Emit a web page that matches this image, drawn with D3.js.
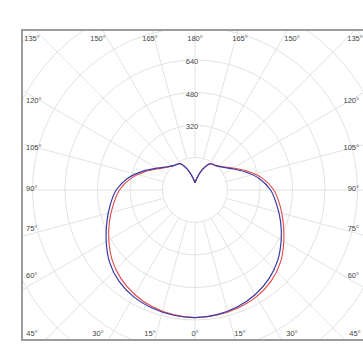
<!DOCTYPE html>
<html>
<head>
<meta charset="UTF-8">
<style>
  body { margin: 0; padding: 0; background: #fff; }
  svg { display: block; }
</style>
<script src="https://d3js.org/d3.v7.min.js"></script>
</head>
<body>
<script>
  // gamma angles (0 = down, 180 = up), 10 degree steps
  const gammas = [0, 10, 20, 30, 40, 50, 60, 70, 80, 90, 100, 110, 120, 130, 140, 150, 160, 170, 180];
  // intensity, wide half of each plane
  const wideHalf = [628, 625, 618, 606, 584, 550, 505, 462, 424, 388, 336, 272, 216, 178, 158, 150, 108, 62, 35];
  // intensity, narrow half of each plane
  const narrowHalf = [628, 623, 612, 594, 568, 533, 490, 448, 408, 372, 322, 262, 210, 175, 157, 149, 108, 62, 35];
  // grid
  const ringValues = [160, 320, 480, 640, 800, 960, 1120, 1280, 1440, 1600];
  const ringLabels = [320, 480, 640];
  const spokeAngles = d3.range(0, 360, 15);
  const topLabels = [135, 150, 165, 180, 165, 150, 135];
  const sideLabels = [120, 105, 90, 75, 60];
  const bottomLabels = [45, 30, 15, 0, 15, 30, 45];

  const width = 363, height = 350;
  const box = { x: 22, y: 30, w: 345, h: 310 };
  const cx = 195, cy = 190;

  const r = d3.scaleLinear().domain([0, 160]).range([0, 32.5]);

  const svg = d3.select("body").append("svg")
      .attr("width", width)
      .attr("height", height);

  svg.append("clipPath").attr("id", "clip")
    .append("rect")
      .attr("x", box.x).attr("y", box.y)
      .attr("width", box.w).attr("height", box.h);

  const grid = svg.append("g").attr("clip-path", "url(#clip)")
    .append("g")
      .attr("transform", `translate(${cx},${cy})`);

  grid.selectAll("circle")
    .data(ringValues)
    .join("circle")
      .attr("r", d => r(d))
      .attr("fill", "none")
      .attr("stroke", "#e2e2e2")
      .attr("stroke-width", 1);

  grid.selectAll("line")
    .data(spokeAngles)
    .join("line")
      .attr("x1", d => r(160) * Math.sin(d * Math.PI / 180))
      .attr("y1", d => r(160) * Math.cos(d * Math.PI / 180))
      .attr("x2", d => r(1600) * Math.sin(d * Math.PI / 180))
      .attr("y2", d => r(1600) * Math.cos(d * Math.PI / 180))
      .attr("stroke", "#e2e2e2")
      .attr("stroke-width", 1);

  // curves: lineRadial angle is clockwise from up, so gamma g on the right -> PI - g
  const line = d3.lineRadial()
      .angle(d => Math.PI - d[0] * Math.PI / 180)
      .radius(d => r(d[1]))
      .curve(d3.curveCatmullRom);

  function plane(left, right) {
    const pts = [];
    for (let i = gammas.length - 1; i >= 0; i--) pts.push([-gammas[i], left[i]]);
    for (let i = 1; i < gammas.length; i++) pts.push([gammas[i], right[i]]);
    return pts;
  }

  const curves = svg.append("g").attr("transform", `translate(${cx},${cy})`);
  curves.append("path")
      .attr("d", line(plane(narrowHalf, wideHalf)))
      .attr("fill", "none")
      .attr("stroke", "#e04848")
      .attr("stroke-width", 1.1);
  curves.append("path")
      .attr("d", line(plane(wideHalf, narrowHalf)))
      .attr("fill", "none")
      .attr("stroke", "#3a3aa6")
      .attr("stroke-width", 1.2);

  // frame
  svg.append("rect")
      .attr("x", box.x).attr("y", box.y)
      .attr("width", box.w).attr("height", box.h)
      .attr("fill", "none")
      .attr("stroke", "#9c9c9c")
      .attr("stroke-width", 2);

  const fontFamily = "Liberation Sans, Arial, sans-serif";
  const labelColor = "#444";
  const dx = 168, dy = 152, labelCy = 188;
  const clampX = x => Math.max(box.x + 10, Math.min(355, x));
  const clampY = y => Math.max(box.y + 12, Math.min(box.y + box.h - 12, y));

  function tanFromVertical(a) {
    const t = a > 90 ? 180 - a : a;
    return Math.tan(t * Math.PI / 180);
  }

  svg.append("g").selectAll("text")
    .data(topLabels)
    .join("text")
      .attr("x", (d, i) => clampX(cx + (i < 3 ? -1 : 1) * dx * tanFromVertical(d)))
      .attr("y", box.y + 11)
      .attr("text-anchor", "middle")
      .attr("font-family", fontFamily)
      .attr("font-size", 7.5)
      .attr("fill", labelColor)
      .text(d => d + "°");

  svg.append("g").selectAll("text")
    .data(bottomLabels)
    .join("text")
      .attr("x", (d, i) => clampX(cx + (i < 3 ? -1 : 1) * dx * tanFromVertical(d)))
      .attr("y", box.y + box.h - 4)
      .attr("text-anchor", "middle")
      .attr("font-family", fontFamily)
      .attr("font-size", 7.5)
      .attr("fill", labelColor)
      .text(d => d + "°");

  const sideY = d => clampY(labelCy - dy * Math.tan((d - 90) * Math.PI / 180));
  [["start", box.x + 4], ["end", 359]].forEach(([anchor, x]) => {
    svg.append("g").selectAll("text")
      .data(sideLabels)
      .join("text")
        .attr("x", x)
        .attr("y", d => sideY(d) + 2.5)
        .attr("text-anchor", anchor)
        .attr("font-family", fontFamily)
        .attr("font-size", 7.5)
        .attr("fill", labelColor)
        .text(d => d + "°");
  });

  svg.append("g").selectAll("text")
    .data(ringLabels)
    .join("text")
      .attr("x", cx - 3)
      .attr("y", d => cy - r(d) + 4)
      .attr("text-anchor", "middle")
      .attr("font-family", fontFamily)
      .attr("font-size", 7.5)
      .attr("fill", labelColor)
      .attr("stroke", "#fff")
      .attr("stroke-width", 3)
      .attr("paint-order", "stroke")
      .text(d => d);
</script>
</body>
</html>
